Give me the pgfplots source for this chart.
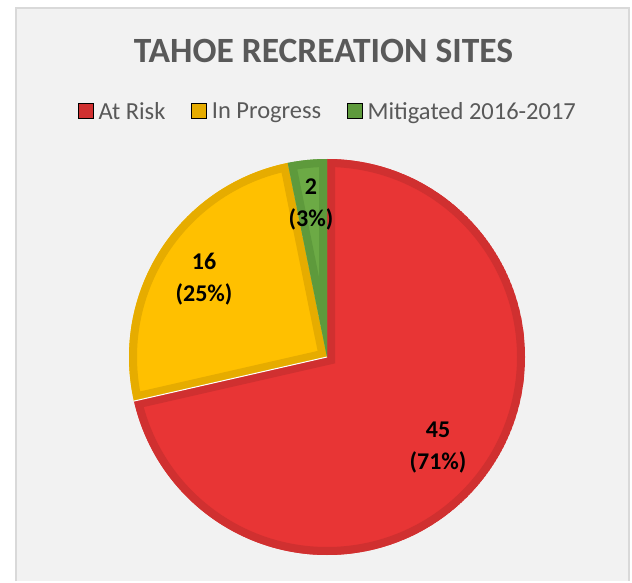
\documentclass[border=0pt]{standalone}
\usepackage{fontspec}
\setmainfont{Carlito}
\usepackage{pgfplots}
\usepackage{pgfplotstable}
\pgfplotsset{compat=1.18}

\definecolor{bgGray}{HTML}{F2F2F2}
\definecolor{frameGray}{HTML}{D9D9D9}
\definecolor{textGray}{HTML}{595959}
\definecolor{riskFill}{HTML}{E83535}
\definecolor{riskLine}{HTML}{D03030}
\definecolor{progFill}{HTML}{FFC000}
\definecolor{progLine}{HTML}{E6AC00}
\definecolor{mitFill}{HTML}{6CAA45}
\definecolor{mitLine}{HTML}{5E9A3C}

\pgfplotstableread{
label value
AtRisk 45
InProgress 16
Mitigated 2
}\piedata

% slice: start angle, end angle, fill, border
\newcommand\slice[4]{%
  \begin{scope}
    \clip (327,224) -- ++(#1:198pt) arc[start angle=#1, end angle=#2, radius=198pt] -- cycle;
    \filldraw[fill=#3, draw=#4, line width=16pt]
      (327,224) -- ++(#1:198pt) arc[start angle=#1, end angle=#2, radius=198pt] -- cycle;
  \end{scope}}

\pgfplotsset{
  sq legend/.style={legend image code/.code={\fill[##1] (0pt,-7pt) rectangle (15pt,8pt);}},
}

\begin{document}
\begin{tikzpicture}
\pgfplotstablegetelem{0}{value}\of\piedata \let\va\pgfplotsretval
\pgfplotstablegetelem{1}{value}\of\piedata \let\vb\pgfplotsretval
\pgfplotstablegetelem{2}{value}\of\piedata \let\vc\pgfplotsretval
\pgfmathsetmacro\tot{\va+\vb+\vc}
\pgfmathsetmacro\aA{90}
\pgfmathsetmacro\aB{\aA-360*\va/\tot}
\pgfmathsetmacro\aC{\aB-360*\vb/\tot}
\pgfmathsetmacro\aD{\aC-360*\vc/\tot}
\begin{axis}[
    x=1pt, y=1pt,
    xmin=0, xmax=632, ymin=0, ymax=581,
    hide axis,
    clip=false,
    legend columns=-1,
    legend style={
        at={(0.519,0.808)},
        anchor=center,
        draw=none,
        fill=none,
        font=\fontsize{24.5}{29}\selectfont,
        text=textGray,
        inner sep=0pt,
        /tikz/every odd column/.append style={column sep=3pt},
        /tikz/every even column/.append style={column sep=24pt},
    },
    legend cell align={left},
]
% background panel
\fill[white] (0,0) rectangle (632,581);
\fill[bgGray] (15.5,0) rectangle (629,573);
\draw[frameGray, line width=2pt] (15.5,0) -- (15.5,573) -- (629,573) -- (629,0);

\slice{\aA}{\aB}{riskFill}{riskLine}
\slice{\aB}{\aC}{progFill}{progLine}
\slice{\aC}{\aD}{mitFill}{mitLine}
\draw[white, line width=1pt] (327,224) -- ++(\aB:198pt);

% title and data labels
\node[font=\bfseries\fontsize{35.5}{40}\selectfont, text=textGray] at (323.5,530.5) {TAHOE RECREATION SITES};
\node[font=\bfseries\fontsize{24}{32}\selectfont, align=center] at (438,133) {45\\(71\%)};
\node[font=\bfseries\fontsize{24}{32}\selectfont, align=center] at (204,302) {16\\(25\%)};
\node[font=\bfseries\fontsize{24}{32}\selectfont, align=center] at (311,376.5) {2\\(3\%)};

\addlegendimage{sq legend, fill=riskLine}
\addlegendentry{At Risk}
\addlegendimage{sq legend, fill=progLine}
\addlegendentry{In Progress}
\addlegendimage{sq legend, fill=mitLine}
\addlegendentry{Mitigated 2016-2017}
\end{axis}
\end{tikzpicture}
\end{document}
